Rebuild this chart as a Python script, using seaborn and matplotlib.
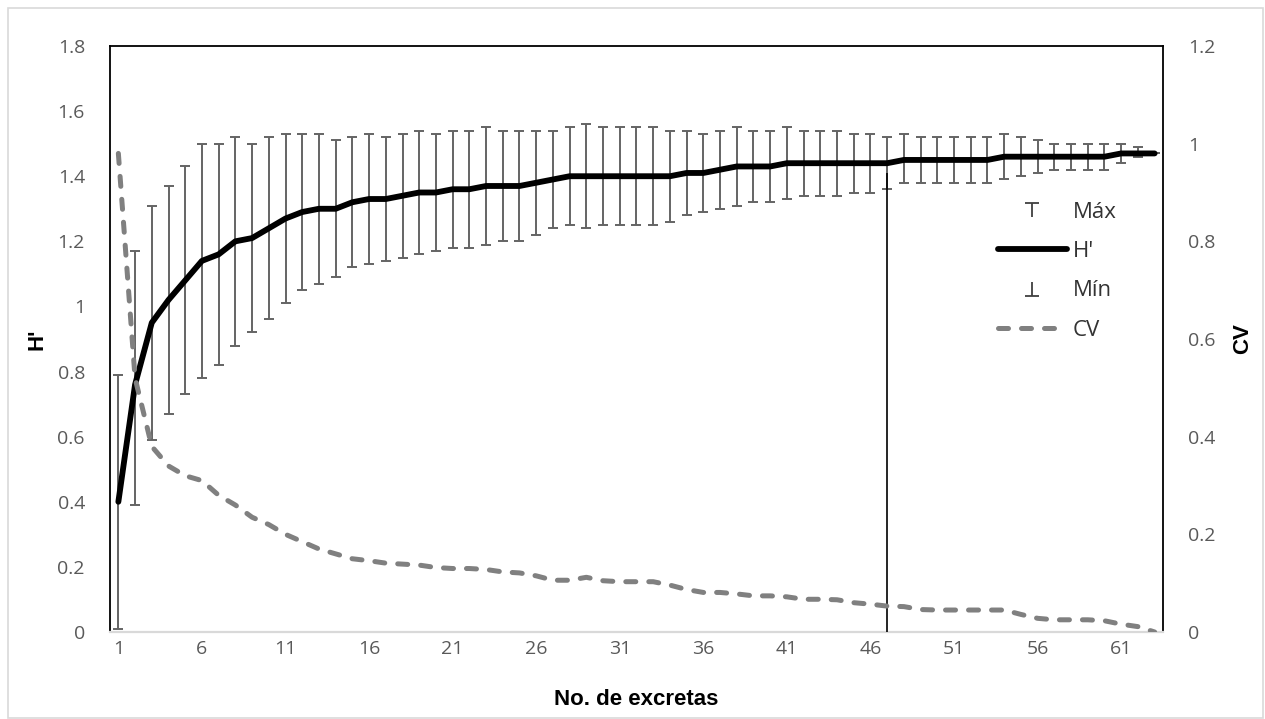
import matplotlib
matplotlib.use("Agg")
import matplotlib.pyplot as plt
import seaborn as sns
import numpy as np
from matplotlib.path import Path
from matplotlib.lines import Line2D
from matplotlib.patches import Rectangle

# ---------------- data ----------------
samples = list(range(1, 64))

h_mean = [0.40, 0.76, 0.95, 1.02, 1.08, 1.14, 1.16, 1.20, 1.21, 1.24,
          1.27, 1.29, 1.30, 1.30, 1.32, 1.33, 1.33, 1.34, 1.35, 1.35,
          1.36, 1.36, 1.37, 1.37, 1.37, 1.38, 1.39, 1.40, 1.40, 1.40,
          1.40, 1.40, 1.40, 1.40, 1.41, 1.41, 1.42, 1.43, 1.43, 1.43,
          1.44, 1.44, 1.44, 1.44, 1.44, 1.44, 1.44, 1.45, 1.45, 1.45,
          1.45, 1.45, 1.45, 1.46, 1.46, 1.46, 1.46, 1.46, 1.46, 1.46,
          1.47, 1.47, 1.47]

h_max = [0.79, 1.17, 1.31, 1.37, 1.43, 1.50, 1.50, 1.52, 1.50, 1.52,
         1.53, 1.53, 1.53, 1.51, 1.52, 1.53, 1.52, 1.53, 1.54, 1.53,
         1.54, 1.54, 1.55, 1.54, 1.54, 1.54, 1.54, 1.55, 1.56, 1.55,
         1.55, 1.55, 1.55, 1.54, 1.54, 1.53, 1.54, 1.55, 1.54, 1.54,
         1.55, 1.54, 1.54, 1.54, 1.53, 1.53, 1.52, 1.53, 1.52, 1.52,
         1.52, 1.52, 1.52, 1.53, 1.52, 1.51, 1.50, 1.50, 1.50, 1.50,
         1.50, 1.49, 1.47]

h_min = [0.01, 0.39, 0.59, 0.67, 0.73, 0.78, 0.82, 0.88, 0.92, 0.96,
         1.01, 1.05, 1.07, 1.09, 1.12, 1.13, 1.14, 1.15, 1.16, 1.17,
         1.18, 1.18, 1.19, 1.20, 1.20, 1.22, 1.24, 1.25, 1.24, 1.25,
         1.25, 1.25, 1.25, 1.26, 1.28, 1.29, 1.30, 1.31, 1.32, 1.32,
         1.33, 1.34, 1.34, 1.34, 1.35, 1.35, 1.36, 1.38, 1.38, 1.38,
         1.38, 1.38, 1.38, 1.39, 1.40, 1.41, 1.42, 1.42, 1.42, 1.42,
         1.44, 1.46, 1.47]

cv = [0.98, 0.52, 0.38, 0.34, 0.32, 0.31, 0.28, 0.26, 0.235, 0.22,
      0.20, 0.185, 0.17, 0.16, 0.15, 0.146, 0.141, 0.139, 0.137, 0.132,
      0.130, 0.130, 0.128, 0.123, 0.121, 0.115, 0.106, 0.106, 0.112, 0.105,
      0.103, 0.103, 0.103, 0.096, 0.087, 0.081, 0.081, 0.078, 0.074, 0.074,
      0.072, 0.067, 0.067, 0.066, 0.060, 0.057, 0.053, 0.052, 0.046, 0.045,
      0.045, 0.045, 0.045, 0.045, 0.036, 0.028, 0.025, 0.025, 0.025, 0.023,
      0.016, 0.011, 0.0]

x_ticks = [1, 6, 11, 16, 21, 26, 31, 36, 41, 46, 51, 56, 61]
h_ticks = [0, 0.2, 0.4, 0.6, 0.8, 1.0, 1.2, 1.4, 1.6, 1.8]
cv_ticks = [0, 0.2, 0.4, 0.6, 0.8, 1.0, 1.2]
marker_sample = 47
marker_height = 1.41

# ---------------- style ----------------
sns.set_theme(style="white")
plt.rcParams["font.family"] = ["Open Sans", "DejaVu Sans"]

W, H = 1265, 719
fig = plt.figure(figsize=(W / 100, H / 100), dpi=100)
L, R, T, B = 110, 1163, 46, 632
ax = fig.add_axes([L / W, 1 - B / H, (R - L) / W, (B - T) / H])
ax2 = ax.twinx()

x = np.array(samples)
hm = np.array(h_mean)
hx = np.array(h_max)
hn = np.array(h_min)

bar_col = "#646464"
ax.errorbar(x, hm, yerr=[hm - hn, hx - hm], fmt="none", ecolor=bar_col,
            elinewidth=1.4, capsize=3.6, capthick=1.4, zorder=2)
sns.lineplot(x=x, y=hm, ax=ax, color="black", linewidth=4.2, zorder=3,
             solid_capstyle="round")
ax.vlines(marker_sample, 0, marker_height, color="black", linewidth=1.2, zorder=4)

sns.lineplot(x=x, y=cv, ax=ax2, color="#808080", linewidth=3.6,
             linestyle=(0, (2.0, 2.6)), dash_capstyle="round", zorder=3)

ax.set_xlim(0.5, 63.5)
ax.set_ylim(0, 1.8)
ax2.set_ylim(0, 1.2)
ax.set_xticks(x_ticks)
ax.set_xticklabels([str(t) for t in x_ticks])
ax.set_yticks(h_ticks)
ax.set_yticklabels([f"{t:g}" for t in h_ticks])
ax2.set_yticks(cv_ticks)
ax2.set_yticklabels([f"{t:g}" for t in cv_ticks])

tick_col = "#595959"
ax.tick_params(axis="y", length=0, pad=18, labelsize=14, labelcolor=tick_col)
ax.tick_params(axis="x", length=0, pad=6, labelsize=14, labelcolor=tick_col)
ax2.tick_params(axis="y", length=0, pad=18, labelsize=14, labelcolor=tick_col)

for s in ["left", "top", "right"]:
    ax.spines[s].set_color("black")
    ax.spines[s].set_linewidth(1.3)
ax.spines["bottom"].set_color("#d9d9d9")
ax.spines["bottom"].set_linewidth(1.6)
for s in ax2.spines.values():
    s.set_visible(False)

lab_font = dict(family=["Liberation Sans", "DejaVu Sans"], weight="bold",
                size=16, color="black")
ax.set_xlabel("No. de excretas", **lab_font)
ax.set_ylabel("H'", **lab_font)
ax2.set_ylabel("CV", **lab_font)
ax.xaxis.set_label_coords(0.5, (B - 689) / (B - T))
ax.yaxis.set_label_coords((48 - L) / (R - L), 0.5)
ax2.yaxis.set_label_coords((1232 - L) / (R - L), 0.5)

# legend
top_marker = Path([(-1, 1), (1, 1), (0, 1), (0, -1)],
                  [Path.MOVETO, Path.LINETO, Path.MOVETO, Path.LINETO])
bot_marker = Path([(-1, -1), (1, -1), (0, -1), (0, 1)],
                  [Path.MOVETO, Path.LINETO, Path.MOVETO, Path.LINETO])
handles = [
    Line2D([0], [0], marker=top_marker, linestyle="none", color="#404040",
           markersize=10, markeredgewidth=1.3),
    Line2D([0], [0], color="black", linewidth=4.2, solid_capstyle="round"),
    Line2D([0], [0], marker=bot_marker, linestyle="none", color="#404040",
           markersize=10, markeredgewidth=1.3),
    Line2D([0], [0], color="#808080", linewidth=3.6, linestyle=(0, (2.0, 2.6)),
           dash_capstyle="round"),
]
labels = ["Máx", "H'", "Mín", "CV"]
leg = ax2.legend(handles, labels, loc="upper left",
                 bbox_to_anchor=((998 - L) / (R - L), (B - 202) / (B - T)),
                 frameon=False, fontsize=16, handlelength=3.1,
                 handletextpad=0.25, labelspacing=0.82, borderpad=0,
                 borderaxespad=0)
for t in leg.get_texts():
    t.set_color("#333333")

# outer chart border
fig.patches.append(Rectangle((8 / W, 1 / H), (1263 - 8) / W, (710) / H,
                             transform=fig.transFigure, fill=False,
                             edgecolor="#d9d9d9", linewidth=1.2))

fig.savefig("out.png", dpi=100)
